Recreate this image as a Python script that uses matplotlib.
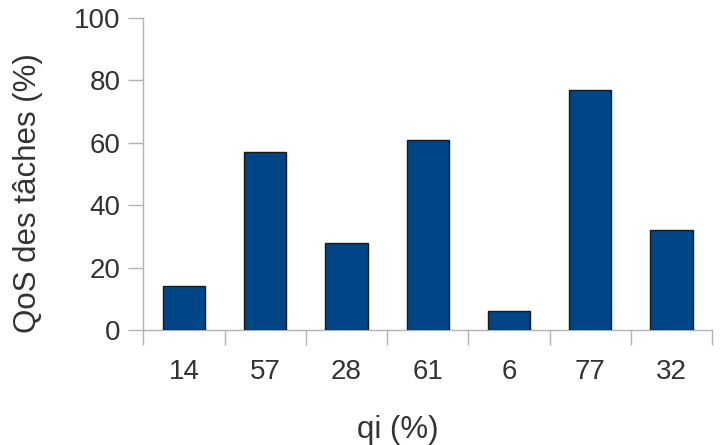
import matplotlib
matplotlib.use('Agg')
import matplotlib.pyplot as plt
import numpy as np

categories = ['14', '57', '28', '61', '6', '77', '32']
qos_values = [14, 57, 28, 61, 6, 77, 32]

plt.rcParams['font.family'] = ['Liberation Sans', 'DejaVu Sans']

fig = plt.figure(figsize=(7.2, 4.45), dpi=100)
ax = fig.add_axes([0.1993, 0.2584, 0.7897, 0.7012])

x = np.arange(len(categories))
ax.bar(x, qos_values, width=0.52, color='#004586', edgecolor='#1a1a1a', linewidth=1, zorder=3)

ax.set_xlim(-0.5, len(categories) - 0.5)
ax.set_ylim(0, 100)
ax.set_yticks([0, 20, 40, 60, 80, 100])

ax.set_xticks(x)
ax.set_xticklabels(categories)
ax.set_xticks(np.arange(-0.5, len(categories), 1), minor=True)
ax.tick_params(axis='x', which='major', length=0, pad=21, labelsize=20, labelcolor='#333333')
ax.tick_params(axis='x', which='minor', length=10.5, color='#b3b3b3', width=1)
ax.tick_params(axis='y', length=10.5, color='#b3b3b3', width=1, pad=6, labelsize=20, labelcolor='#333333')

for side in ['top', 'right']:
    ax.spines[side].set_visible(False)
for side in ['left', 'bottom']:
    ax.spines[side].set_color('#b3b3b3')
    ax.spines[side].set_linewidth(1)

# axis titles placed like the original (slightly off-centre)
fig.text(0.553, 0.034, 'qi (%)', fontsize=22.5, color='#333333', ha='center', va='center')
fig.text(0.039, 0.566, 'QoS des tâches (%)', fontsize=22.5, color='#333333',
         ha='center', va='center', rotation=90)

fig.savefig('out.png', dpi=100)
